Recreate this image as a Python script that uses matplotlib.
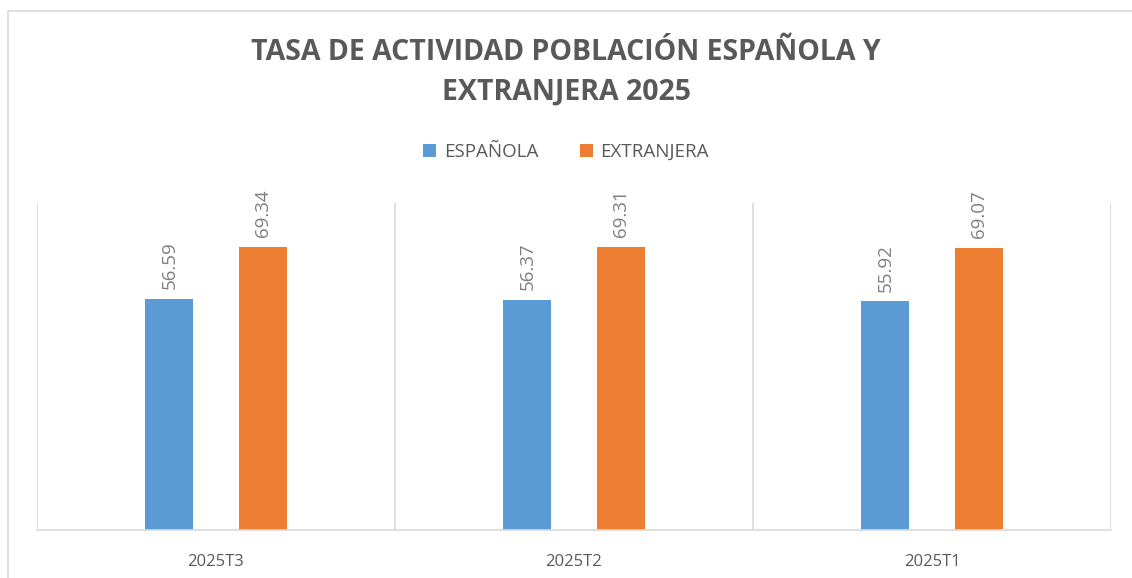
import matplotlib.pyplot as plt
from matplotlib.patches import Rectangle
import numpy as np

categories = ["2025T3", "2025T2", "2025T1"]
espanola = [56.59, 56.37, 55.92]
extranjera = [69.34, 69.31, 69.07]
series_names = ["ESPAÑOLA", "EXTRANJERA"]

BLUE = "#5b9bd5"
ORANGE = "#ed7d31"
TEXT = "#595959"
LABEL = "#7f7f7f"
GRID = "#d9d9d9"

plt.rcParams["font.family"] = ["Open Sans", "DejaVu Sans"]

fig = plt.figure(figsize=(11.32, 5.78), dpi=100)
# outer chart frame (runs off the right and bottom edges)
fig.patches.append(Rectangle((8 / 1132, -0.1), 1.2, (578 - 11) / 578 + 0.1,
                             transform=fig.transFigure, fill=False,
                             edgecolor=GRID, linewidth=1.2))

ax = fig.add_axes([37 / 1132, 48 / 578, (1111 - 37) / 1132, (530 - 203) / 578])
x = np.arange(len(categories))
w = 0.134
off = 0.13
b1 = ax.bar(x - off, espanola, w, color=BLUE, label=series_names[0])
b2 = ax.bar(x + off, extranjera, w, color=ORANGE, label=series_names[1])

for bars in (b1, b2):
    for rect in bars:
        h = rect.get_height()
        ax.annotate(f"{h:.2f}", (rect.get_x() + rect.get_width() / 2, h),
                    xytext=(0, 7), textcoords="offset points",
                    rotation=90, ha="center", va="bottom",
                    fontsize=13.5, color=LABEL)

ax.set_xlim(-0.5, len(categories) - 0.5)
ax.set_ylim(0, 80)
ax.set_yticks([])
for b in np.arange(-0.5, len(categories), 1.0):
    ax.axvline(b, color=GRID, linewidth=1.2, zorder=0)
for s in ["top", "right", "left"]:
    ax.spines[s].set_visible(False)
ax.spines["bottom"].set_color(GRID)
ax.spines["bottom"].set_linewidth(1.2)
ax.set_xticks(x)
ax.set_xticklabels(categories, fontsize=12, color=TEXT)
ax.tick_params(axis="x", length=0, pad=17)

fig.text(0.5, 1 - 52 / 578, "TASA DE ACTIVIDAD POBLACIÓN ESPAÑOLA Y",
         ha="center", va="center", fontsize=20.5, fontweight="bold", color=TEXT)
fig.text(0.5, 1 - 92 / 578, "EXTRANJERA 2025",
         ha="center", va="center", fontsize=20.5, fontweight="bold", color=TEXT)

fig.legend(loc="center", bbox_to_anchor=(0.5, 1 - 152 / 578), ncol=2,
           frameon=False, fontsize=13.5, labelcolor=TEXT,
           handlelength=0.7, handleheight=0.7, handletextpad=0.4,
           columnspacing=2.2)

fig.savefig("out.png", dpi=100)
